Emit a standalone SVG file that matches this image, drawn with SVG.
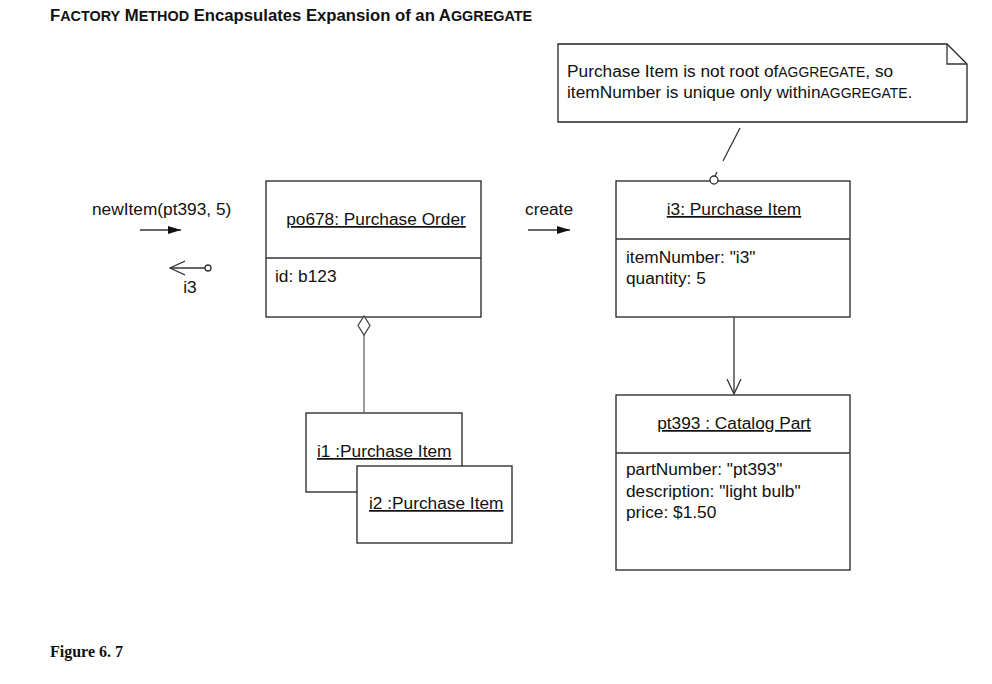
<svg xmlns="http://www.w3.org/2000/svg" width="992" height="684" viewBox="0 0 992 684">
<style>
text{font-family:"Liberation Sans",Arial,sans-serif;fill:#111}
.t{font-size:17.3px}
.u{text-decoration:underline}
.sc{font-size:13.9px}
.box{fill:#fff;stroke:#222;stroke-width:1.3}
.ln{stroke:#333;stroke-width:1.3;fill:none}
</style>
<defs>
<marker id="fill" markerWidth="14" markerHeight="10" refX="13" refY="5" orient="auto" markerUnits="userSpaceOnUse">
<path d="M0,1 L13,5 L0,9 Z" fill="#111"/>
</marker>
<marker id="open" markerWidth="16" markerHeight="18" refX="15" refY="8" orient="auto" markerUnits="userSpaceOnUse">
<path d="M0,1 L15,8 L0,15" fill="none" stroke="#333" stroke-width="1.3"/>
</marker>
</defs>
<rect width="992" height="684" fill="#fff"/>
<text x="50" y="21" style="font-weight:bold;font-size:16.7px">F<tspan style="font-size:14.4px">ACTORY</tspan> M<tspan style="font-size:14.4px">ETHOD</tspan> Encapsulates Expansion of an A<tspan style="font-size:14.4px">GGREGATE</tspan></text>

<g id="note">
<path class="box" d="M558,44 L947,44 L967,64 L967,122 L558,122 Z"/>
<path class="ln" d="M947,44 L947,64 L967,64"/>
<text class="t" x="567" y="77">Purchase Item is not root of<tspan class="sc">AGGREGATE</tspan>, so</text>
<text class="t" x="567" y="98">itemNumber is unique only within<tspan class="sc">AGGREGATE</tspan>.</text>
</g>

<g id="po678">
<rect class="box" x="266" y="181" width="215" height="136"/>
<line class="ln" x1="266" y1="258" x2="481" y2="258"/>
<text class="t u" x="376" y="225" text-anchor="middle">po678: Purchase Order</text>
<text class="t" x="275" y="282">id: b123</text>
</g>

<g id="i3">
<rect class="box" x="616" y="181" width="234" height="136"/>
<line class="ln" x1="616" y1="239" x2="850" y2="239"/>
<text class="t u" x="734" y="215" text-anchor="middle">i3: Purchase Item</text>
<text class="t" x="626" y="263">itemNumber: "i3"</text>
<text class="t" x="626" y="284">quantity: 5</text>
</g>

<g id="pt393">
<rect class="box" x="616" y="395" width="234" height="175"/>
<line class="ln" x1="616" y1="453" x2="850" y2="453"/>
<text class="t u" x="734" y="429" text-anchor="middle">pt393 : Catalog Part</text>
<text class="t" x="626" y="475">partNumber: "pt393"</text>
<text class="t" x="626" y="497">description: "light bulb"</text>
<text class="t" x="626" y="518">price: $1.50</text>
</g>

<g id="i1">
<rect class="box" x="306" y="413" width="156" height="79"/>
<text class="t u" x="317" y="457">i1 :Purchase Item</text>
</g>

<g id="i2">
<rect class="box" x="357" y="466" width="155" height="77"/>
<text class="t u" x="369" y="509">i2 :Purchase Item</text>
</g>

<g id="connectors">
<line class="ln" x1="364" y1="335" x2="364" y2="413" style="stroke:#666"/>
<path d="M364,316 L370,325.5 L364,335 L358,325.5 Z" fill="#fff" stroke="#444" stroke-width="1.3"/>
<line class="ln" x1="734" y1="317" x2="734" y2="394" marker-end="url(#open)"/>
<line class="ln" x1="740" y1="128" x2="723" y2="161"/>
<line class="ln" x1="717" y1="172" x2="715" y2="176"/>
<circle cx="714" cy="180" r="4" fill="#fff" stroke="#333" stroke-width="1.3"/>
<line class="ln" x1="140" y1="230" x2="181" y2="230" marker-end="url(#fill)"/>
<line class="ln" x1="528" y1="230" x2="570" y2="230" marker-end="url(#fill)"/>
<line class="ln" x1="205" y1="268" x2="170" y2="268" marker-end="url(#open)"/>
<circle cx="208" cy="268" r="3" fill="#fff" stroke="#333" stroke-width="1.3"/>
</g>
<text class="t" x="92" y="215">newItem(pt393, 5)</text>
<text class="t" x="190" y="293" text-anchor="middle">i3</text>
<text class="t" x="525" y="215">create</text>
<text x="50" y="657" style="font-family:'Liberation Serif','Times New Roman',serif;font-weight:bold;font-size:16px">Figure 6. 7</text>
</svg>
